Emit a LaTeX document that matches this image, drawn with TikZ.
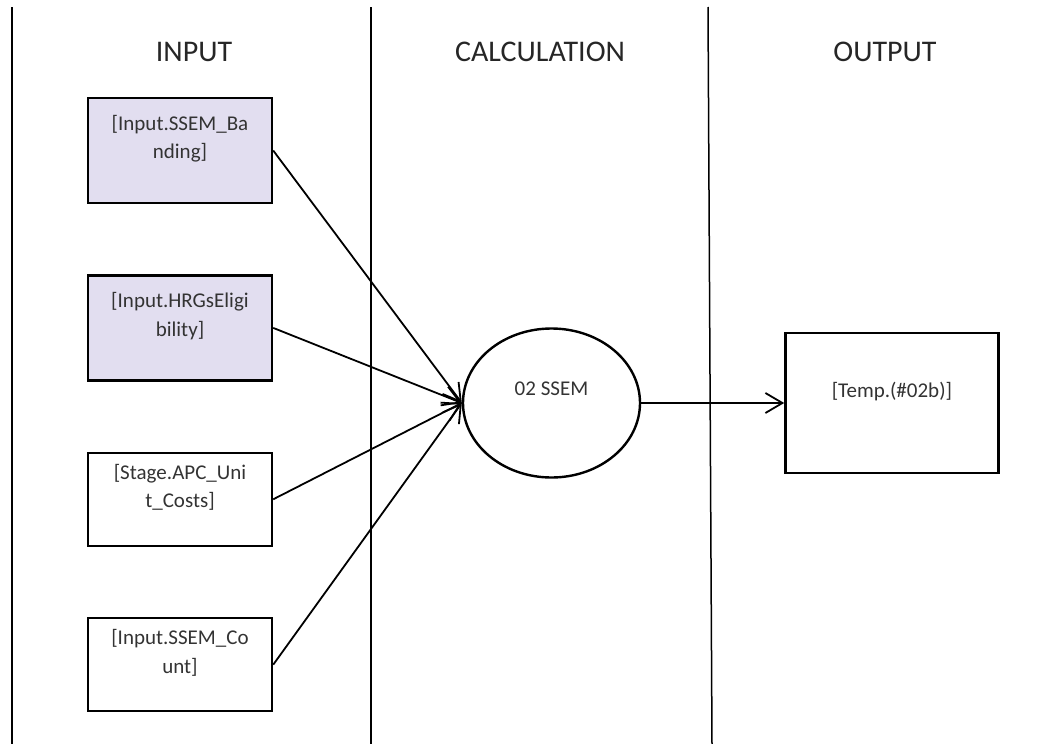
\documentclass[tikz,border=0pt]{standalone}
\usepackage{fontspec}
\setmainfont{Carlito}
\usepackage{xcolor}
\usepackage{tikz}
\usetikzlibrary{shapes.geometric, arrows.meta, positioning}
\definecolor{lavender}{RGB}{226,222,240}

\begin{document}
\begin{tikzpicture}[
    x=1pt, y=-1pt,
    node distance=70pt,
    head/.style={font=\fontsize{30}{34}\selectfont, text=black!85},
    box/.style={rectangle, draw, line width=2.4pt, minimum width=184pt, minimum height=93pt, align=center, text depth=27pt, font=\fontsize{21}{28.5}\selectfont, text=black!80},
    process/.style={ellipse, draw, line width=2.4pt, minimum width=177pt, minimum height=149pt, inner sep=0pt, text depth=28pt, font=\fontsize{21}{28.5}\selectfont, text=black!80},
    lane/.style={line width=1.5pt},
    arrow/.style={-{Straight Barb[length=17pt,width=20pt]}, line width=1.8pt}
]
\useasboundingbox (0,0) rectangle (1039,744);

% Swim lanes
\draw[lane] (12,7) -- (12,744);
\draw[lane] (371,7) -- (371,744);
\draw[lane] (708,7) -- (712,744);

% Lane headers
\node[head] (hin) at (194,52) {INPUT};
\node[head] (hcalc) at (540,52) {CALCULATION};
\node[head] (hout) at (885,52) {OUTPUT};

% Input tables
\node[box, fill=lavender, minimum height=105pt] (banding) at (180,150.5) {[Input.SSEM\_Ba\\nding]};
\node[box, fill=lavender, minimum height=105pt, below=of banding] (eligib) {[Input.HRGsEligi\\bility]};
\node[box, below=of eligib] (unitcost) {[Stage.APC\_Uni\\t\_Costs]};
\node[box, below=of unitcost] (count) {[Input.SSEM\_Co\\unt]};

% Calculation and output
\node[process] (ssem) at (551.5,403) {02 SSEM};
\node[box, minimum width=213pt, minimum height=140pt, right=143pt of ssem] (tempout) {[Temp.(\#02b)]};

\draw[arrow] (banding.east) -- (ssem.west);
\draw[arrow] (eligib.east) -- (ssem.west);
\draw[arrow] (unitcost.east) -- (ssem.west);
\draw[arrow] (count.east) -- (ssem.west);
\draw[arrow] (ssem.east) -- (tempout.west);
\end{tikzpicture}
\end{document}
